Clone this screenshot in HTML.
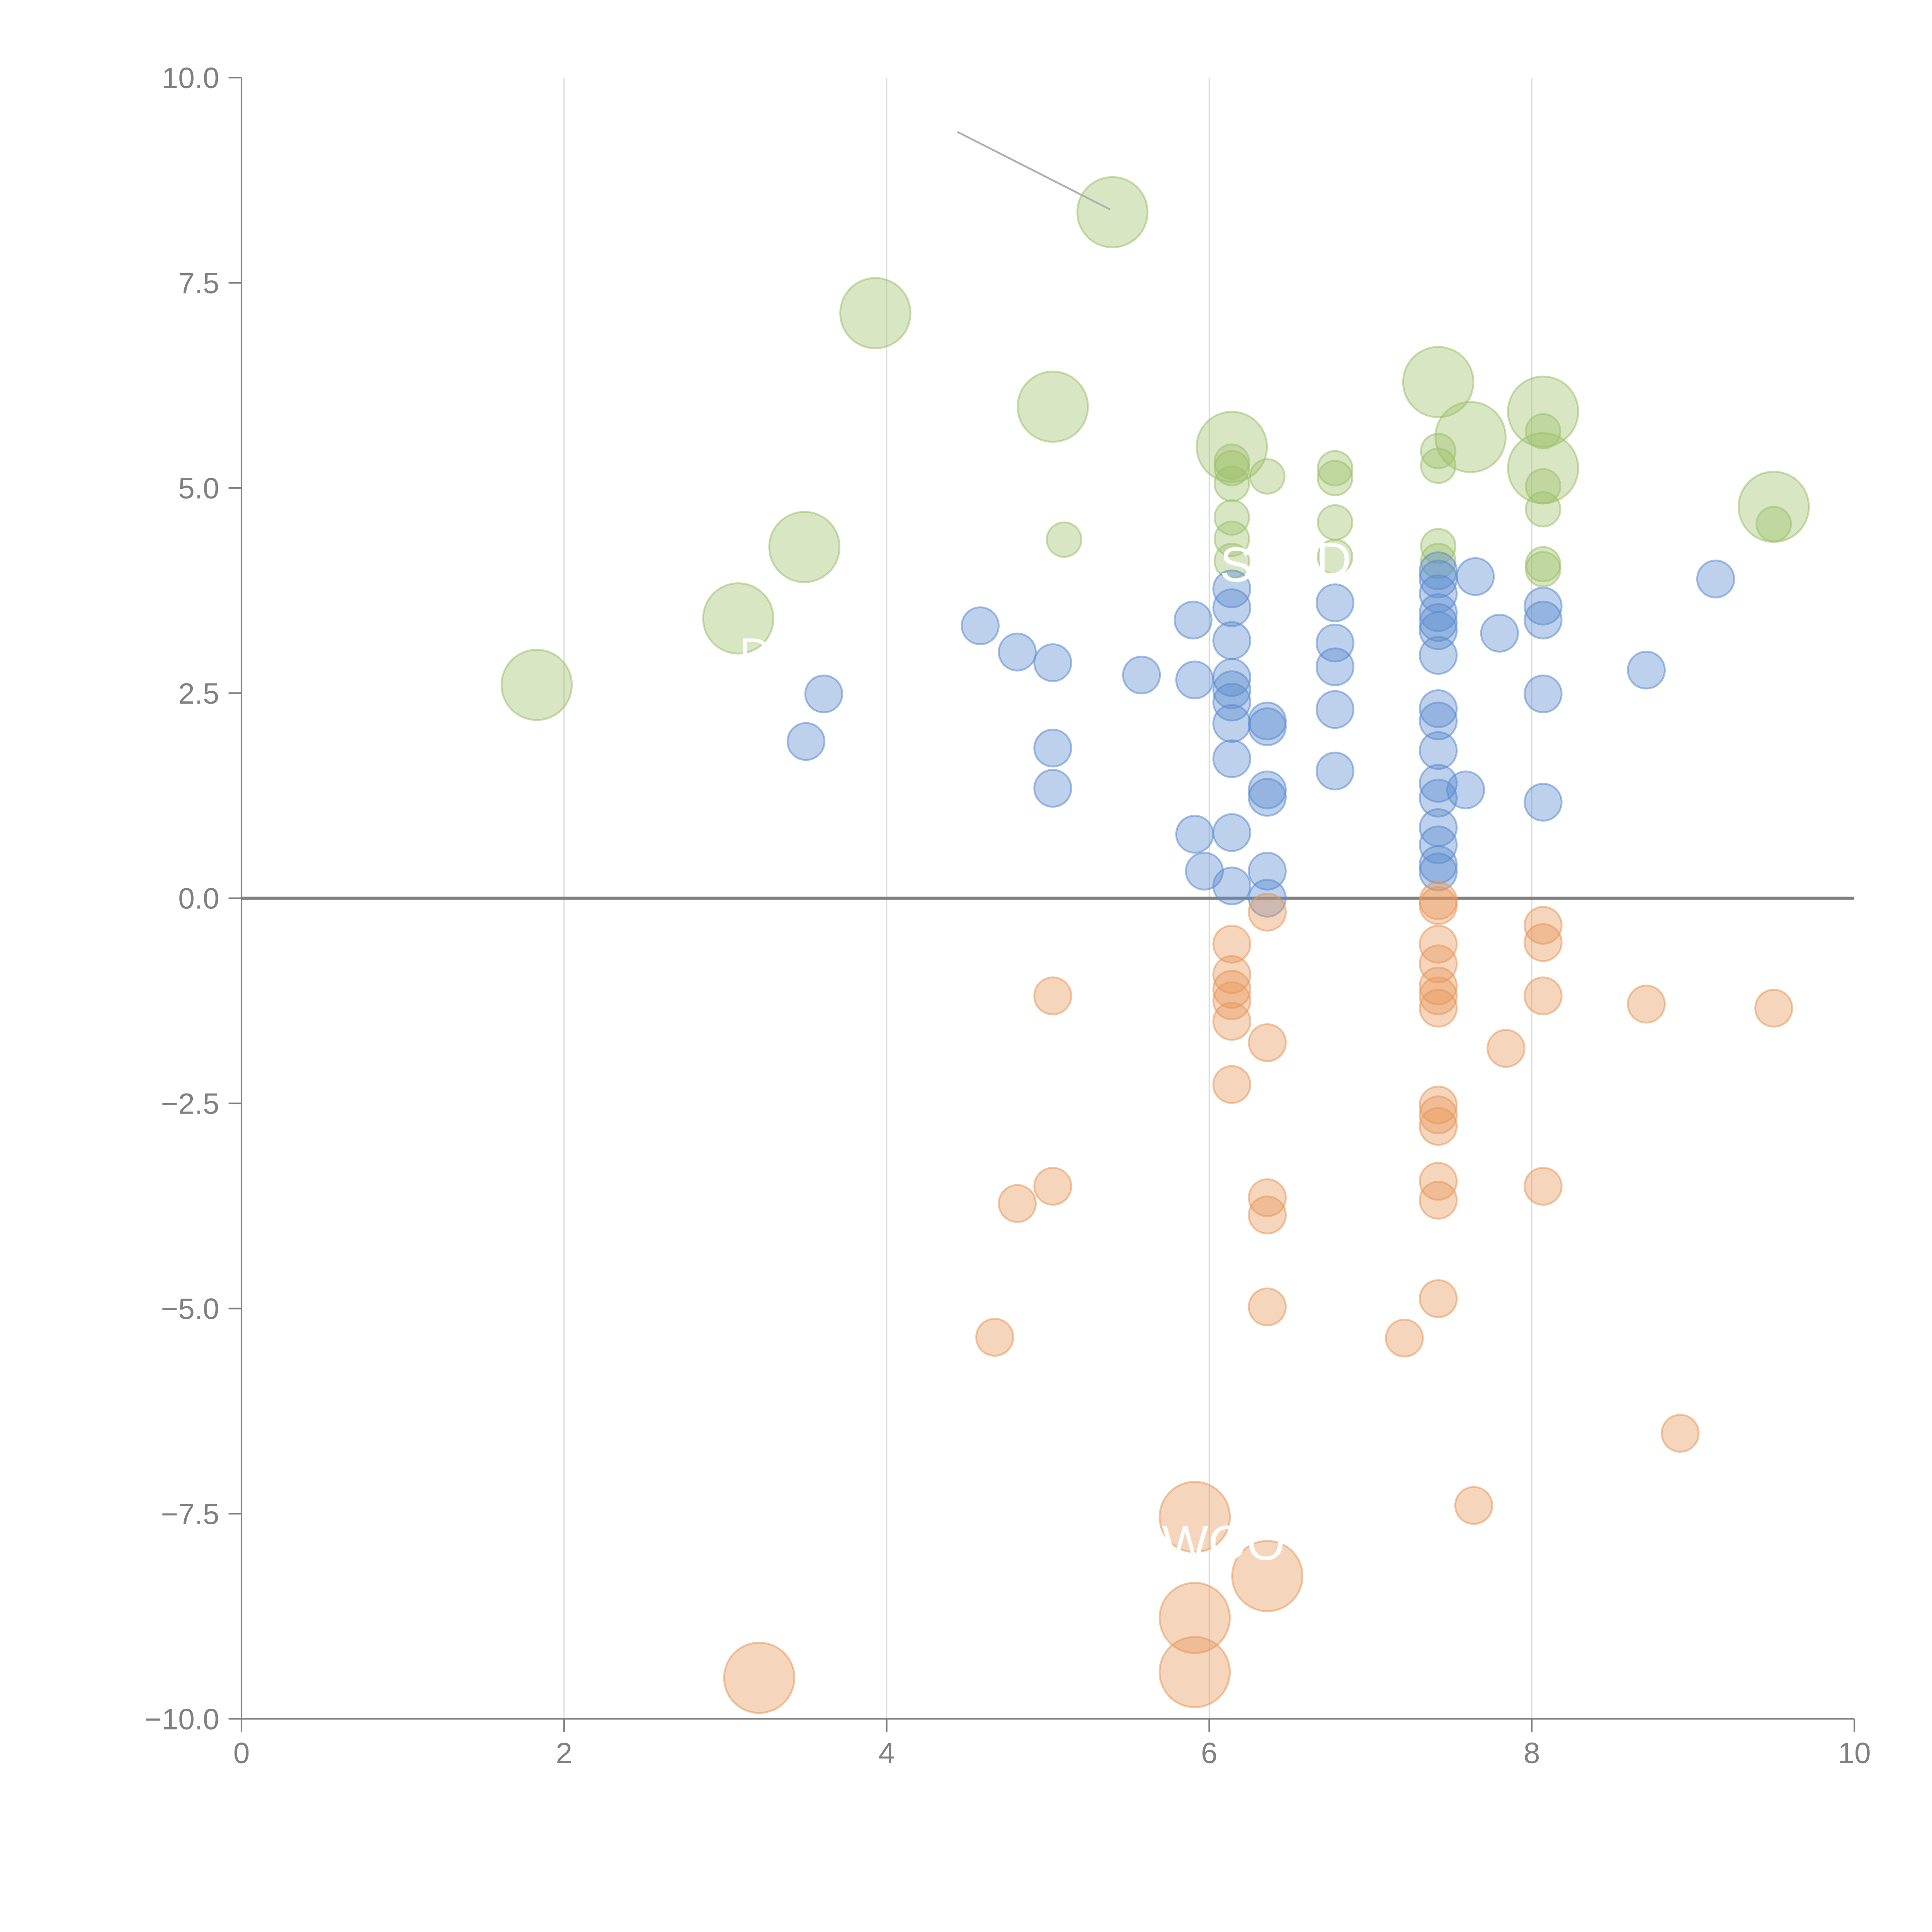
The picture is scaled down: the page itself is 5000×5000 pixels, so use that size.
<!DOCTYPE html>
<html><head><meta charset="utf-8">
<style>
html,body{margin:0;padding:0;background:#fff;}
svg{display:block;}
text{font-family:"Liberation Sans",Arial,sans-serif;}
</style></head>
<body>
<svg id="chart" width="5000" height="5000" viewBox="0 0 1568 1568" xmlns="http://www.w3.org/2000/svg">
<g id="grid"></g>
<g id="axes"></g>
<g id="points"></g>
<g id="labels"></g>
</svg>
<script>
const xTicks = [0, 2, 4, 6, 8, 10];
const yTicks = [10, 7.5, 5, 2.5, 0, -2.5, -5, -7.5, -10];
const yTickLabels = ["10.0", "7.5", "5.0", "2.5", "0.0", "\u22122.5", "\u22125.0", "\u22127.5", "\u221210.0"];

const greenX = [5.40,3.93,5.03,7.42,8.07,7.62,6.14,8.07,9.50,3.49,3.08,1.83,
  6.14,6.14,6.36,6.78,6.78,6.78,5.10,6.14,6.14,6.14,6.78,7.42,7.42,7.42,7.42,8.07,8.07,8.07,8.07,8.07,9.50,6.14];
const greenY = [8.36,7.13,5.99,6.29,5.93,5.62,5.50,5.24,4.77,4.28,3.41,2.60,
  5.32,5.05,5.14,5.24,5.12,4.58,4.37,4.64,4.38,4.11,4.16,5.45,5.27,4.29,4.11,5.69,5.02,4.74,4.07,4.01,4.56,5.24];
const greenS = [2,2,2,2,2,2,2,2,2,2,2,2, 1,1,1,1,1,1,1,1,1,1,1,1,1,1,1,1,1,1,1,1,1,1];

const blueX = [4.58,4.81,5.03,3.61,3.50,5.03,5.03,5.58,5.90,5.91,5.91,5.97,6.14,6.14,6.14,6.14,6.14,6.14,6.14,6.14,6.14,6.14,
  6.36,6.36,6.36,6.36,6.36,6.36,6.78,6.78,6.78,6.78,6.78,7.42,7.42,7.42,7.42,7.42,7.42,7.42,7.42,7.42,7.42,7.42,7.42,7.42,7.42,7.42,7.42,
  7.59,7.65,7.80,8.07,8.07,8.07,8.07,8.71,9.14];
const blueY = [3.32,3.00,2.87,2.49,1.91,1.83,1.34,2.72,3.39,2.66,0.78,0.33,3.77,3.54,3.14,2.69,2.54,2.39,2.13,1.70,0.80,0.15,
  2.16,2.09,1.32,1.23,0.33,0.00,3.60,3.11,2.82,2.30,1.55,3.99,3.89,3.71,3.48,3.36,3.26,2.96,2.31,2.16,1.80,1.40,1.22,0.86,0.65,0.41,0.32,
  1.32,3.92,3.23,3.56,3.39,2.49,1.17,2.78,3.89];

const orangeX = [5.03,4.81,5.03,4.67,6.14,6.14,6.14,6.14,6.14,6.14,6.36,6.36,6.36,6.36,6.36,
  7.42,7.42,7.42,7.42,7.42,7.42,7.42,7.42,7.42,7.42,7.42,7.42,7.42,7.21,7.64,7.84,8.07,8.07,8.07,8.07,8.71,9.50,8.92,
  5.91,5.91,5.91,6.36,3.21];
const orangeY = [-1.19,-3.72,-3.51,-5.35,-0.56,-0.93,-1.11,-1.25,-1.50,-2.27,-0.17,-1.76,-3.65,-3.86,-4.98,
  -0.03,-0.09,-0.56,-0.80,-1.07,-1.19,-1.34,-2.52,-2.64,-2.78,-3.45,-3.68,-4.88,-5.36,-7.40,-1.83,-0.33,-0.54,-1.19,-3.51,-1.29,-1.34,-6.52,
  -7.54,-8.77,-9.43,-8.26,-9.50];
const orangeS = [1,1,1,1,1,1,1,1,1,1,1,1,1,1,1, 1,1,1,1,1,1,1,1,1,1,1,1,1,1,1,1,1,1,1,1,1,1,1, 2,2,2,2,2];

const L = 196, R = 1505, T = 63, B = 1395;
function sx(v){ return L + (v - 0) / 10 * (R - L); }
function sy(v){ return T + (10 - v) / 20 * (B - T); }
function rad(s, small){ return s === 2 ? 28.5 : small; }
const NS = "http://www.w3.org/2000/svg";
function mk(tag, attrs, parent){
  const e = document.createElementNS(NS, tag);
  for (const k in attrs) e.setAttribute(k, attrs[k]);
  parent.appendChild(e);
  return e;
}
const grid = document.getElementById('grid');
const axes = document.getElementById('axes');
const pts = document.getElementById('points');
const labs = document.getElementById('labels');

xTicks.forEach(function(t){
  if (t > 0 && t < 10) {
    const g = mk('line', {x1: sx(t), x2: sx(t), y1: T, y2: B, stroke: '#dddddd', 'stroke-width': 1}, grid);
    
    
  }
  const tk = mk('line', {x1: sx(t), x2: sx(t), y1: B, y2: B + 10.5, stroke: '#808080', 'stroke-width': 1.3}, axes);
  
  
  const tx = mk('text', {x: sx(t), y: B + 36, 'text-anchor': 'middle', 'font-size': 24, fill: '#808080'}, axes);
  tx.textContent = String(t);
  
  
});
yTicks.forEach(function(t, i){
  const tk = mk('line', {x1: L - 10.5, x2: L, y1: sy(t), y2: sy(t), stroke: '#808080', 'stroke-width': 1.3}, axes);
  
  
  const tx = mk('text', {x: L - 18, y: sy(t) + 8.5, 'text-anchor': 'end', 'font-size': 24, fill: '#808080'}, axes);
  tx.textContent = yTickLabels[i];
  
  
});
let a = mk('line', {x1: L, x2: L, y1: T, y2: B, stroke: '#808080', 'stroke-width': 1.3}, axes);


a = mk('line', {x1: L, x2: R, y1: B, y2: B, stroke: '#808080', 'stroke-width': 1.3}, axes);


a = mk('line', {x1: L, x2: R, y1: sy(0), y2: sy(0), stroke: '#808080', 'stroke-width': 2.5}, axes);



function drawSeries(xs, ys, ss, color, small, name){
  xs.forEach(function(x, i){
    const c = mk('circle', {cx: sx(x), cy: sy(ys[i]), r: rad(ss ? ss[i] : 1, small),
      fill: color, 'fill-opacity': 0.4, stroke: color, 'stroke-opacity': 0.55, 'stroke-width': 1.5}, pts);
    
    
  });
}
drawSeries(greenX, greenY, greenS, '#9dc06a', 14, 'green-bubble');
drawSeries(blueX, blueY, null, '#5b8bd0', 15, 'blue-bubble');
drawSeries(orangeX, orangeY, orangeS, '#e8975a', 15, 'orange-bubble');

let ln = mk('line', {x1: 777, y1: 107, x2: 901, y2: 170, stroke: '#b0b0b0', 'stroke-width': 1.5}, labs);


const whiteLabels = [["S", 990, 472, 40], ["D", 1068, 468, 40], ["WOO", 943, 1266, 40], ["D", 600, 543, 36]];
whiteLabels.forEach(function(w){
  const t = mk('text', {x: w[1], y: w[2], 'font-size': w[3], fill: '#ffffff'}, labs);
  t.textContent = w[0];
  
  
});
</script>
</body></html>
